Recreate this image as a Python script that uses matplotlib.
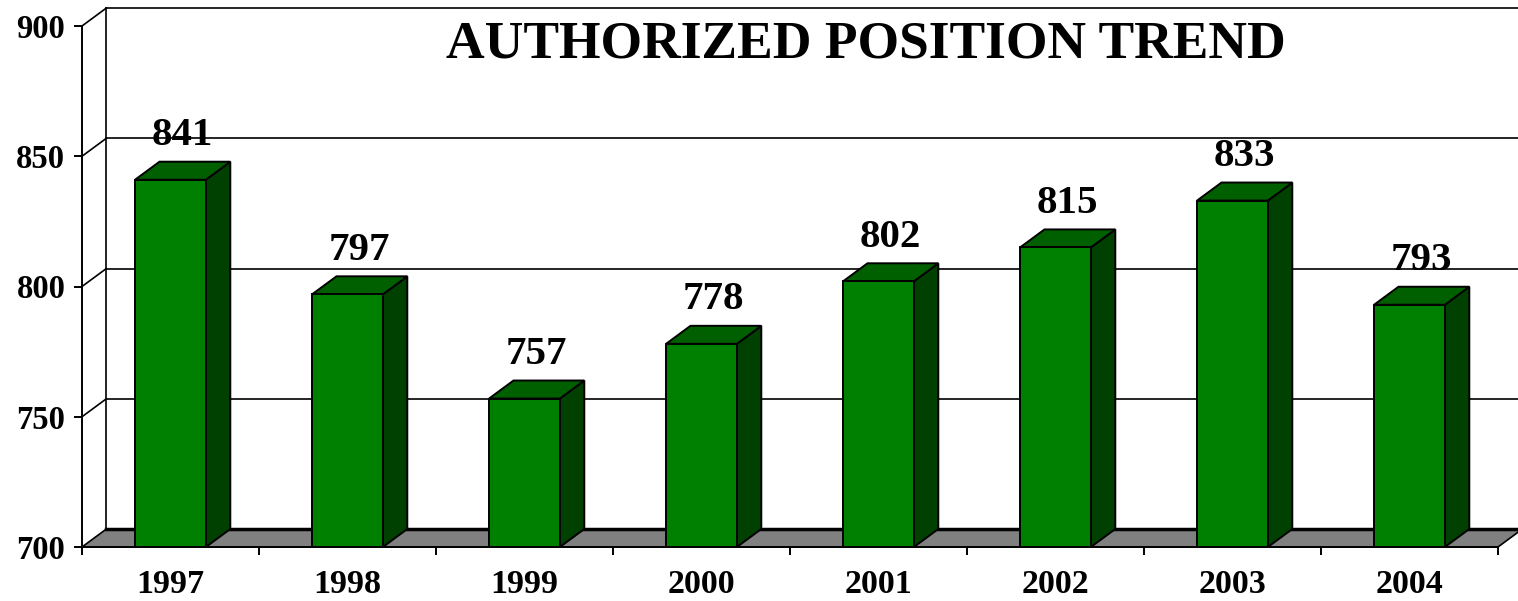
import numpy as np
import matplotlib.pyplot as plt
from matplotlib.patches import Polygon

years = ['1997', '1998', '1999', '2000', '2001', '2002', '2003', '2004']
positions = [841, 797, 757, 778, 802, 815, 833, 793]
yticks = [700, 750, 800, 850, 900]

plt.rcParams['font.family'] = ['Liberation Serif', 'DejaVu Serif']
plt.rcParams['font.weight'] = 'bold'

fig = plt.figure(figsize=(15.18, 6.01), dpi=100)
ax = fig.add_axes([82 / 1518, 54 / 601, 1416 / 1518, 521 / 601])
ax.set_xlim(-0.5, len(years) - 0.5)
ax.set_ylim(700, 900)

# depth of the fake 3d box, in data units
dx = 24.4 / 177.0
dy = 18.0 / 2.605
bw = 0.4

front = '#008000'
top = '#006000'
side = '#004000'

# back wall and left side wall
x0, x1 = -0.5, len(years) - 0.5
for v in yticks[1:]:
    ax.plot([x0 + dx, x1 + dx], [v + dy, v + dy], color='black', lw=1.2,
            clip_on=False, zorder=1)
    ax.plot([x0, x0 + dx], [v, v + dy], color='black', lw=1.2,
            clip_on=False, zorder=1)
ax.plot([x0 + dx, x0 + dx], [700 + dy, 900 + dy], color='black', lw=1.2,
        clip_on=False, zorder=1)

# floor
floor = Polygon([[x0, 700], [x1, 700], [x1 + dx, 700 + dy], [x0 + dx, 700 + dy]],
                closed=True, facecolor='#808080', edgecolor='black', lw=1.2,
                clip_on=False, zorder=2)
ax.add_patch(floor)
ax.plot([x0 + dx, x1 + dx], [700 + dy, 700 + dy], color='black', lw=2.5,
        clip_on=False, zorder=2)

# bars
for i, val in enumerate(positions):
    l, r = i - bw / 2, i + bw / 2
    ax.add_patch(Polygon([[r, 700], [r + dx, 700 + dy], [r + dx, val + dy], [r, val]],
                         facecolor=side, edgecolor='black', lw=1.4, zorder=3))
    ax.add_patch(Polygon([[l, val], [r, val], [r + dx, val + dy], [l + dx, val + dy]],
                         facecolor=top, edgecolor='black', lw=1.4, zorder=3))
    ax.add_patch(Polygon([[l, 700], [r, 700], [r, val], [l, val]],
                         facecolor=front, edgecolor='black', lw=1.4, zorder=4))
    ax.annotate(str(val), (i + dx / 2, val + dy), xytext=(0, 5.5),
                textcoords='offset points', ha='center', va='bottom',
                fontsize=29.5, fontweight='bold', zorder=5)

# axes
for s in ['top', 'right']:
    ax.spines[s].set_visible(False)
ax.spines['left'].set_linewidth(1.4)
ax.spines['bottom'].set_linewidth(1.4)
ax.spines['left'].set_zorder(6)
ax.set_yticks(yticks)
ax.set_yticklabels([str(t) for t in yticks], fontsize=23.5, fontweight='bold')
ax.tick_params(axis='y', length=6, width=1.4, pad=6)
ax.set_xticks(range(len(years)))
ax.set_xticklabels(years, fontsize=24.5, fontweight='bold')
ax.set_xticks(np.arange(-0.5, len(years), 1.0), minor=True)
ax.tick_params(axis='x', which='major', length=0, pad=16)
ax.tick_params(axis='x', which='minor', length=6, width=1.4)

fig.text(866 / 1518, 1 - 44 / 601, 'AUTHORIZED POSITION TREND', ha='center',
         va='center', fontsize=38.5, fontweight='bold')

fig.savefig('out.png', dpi=100)
